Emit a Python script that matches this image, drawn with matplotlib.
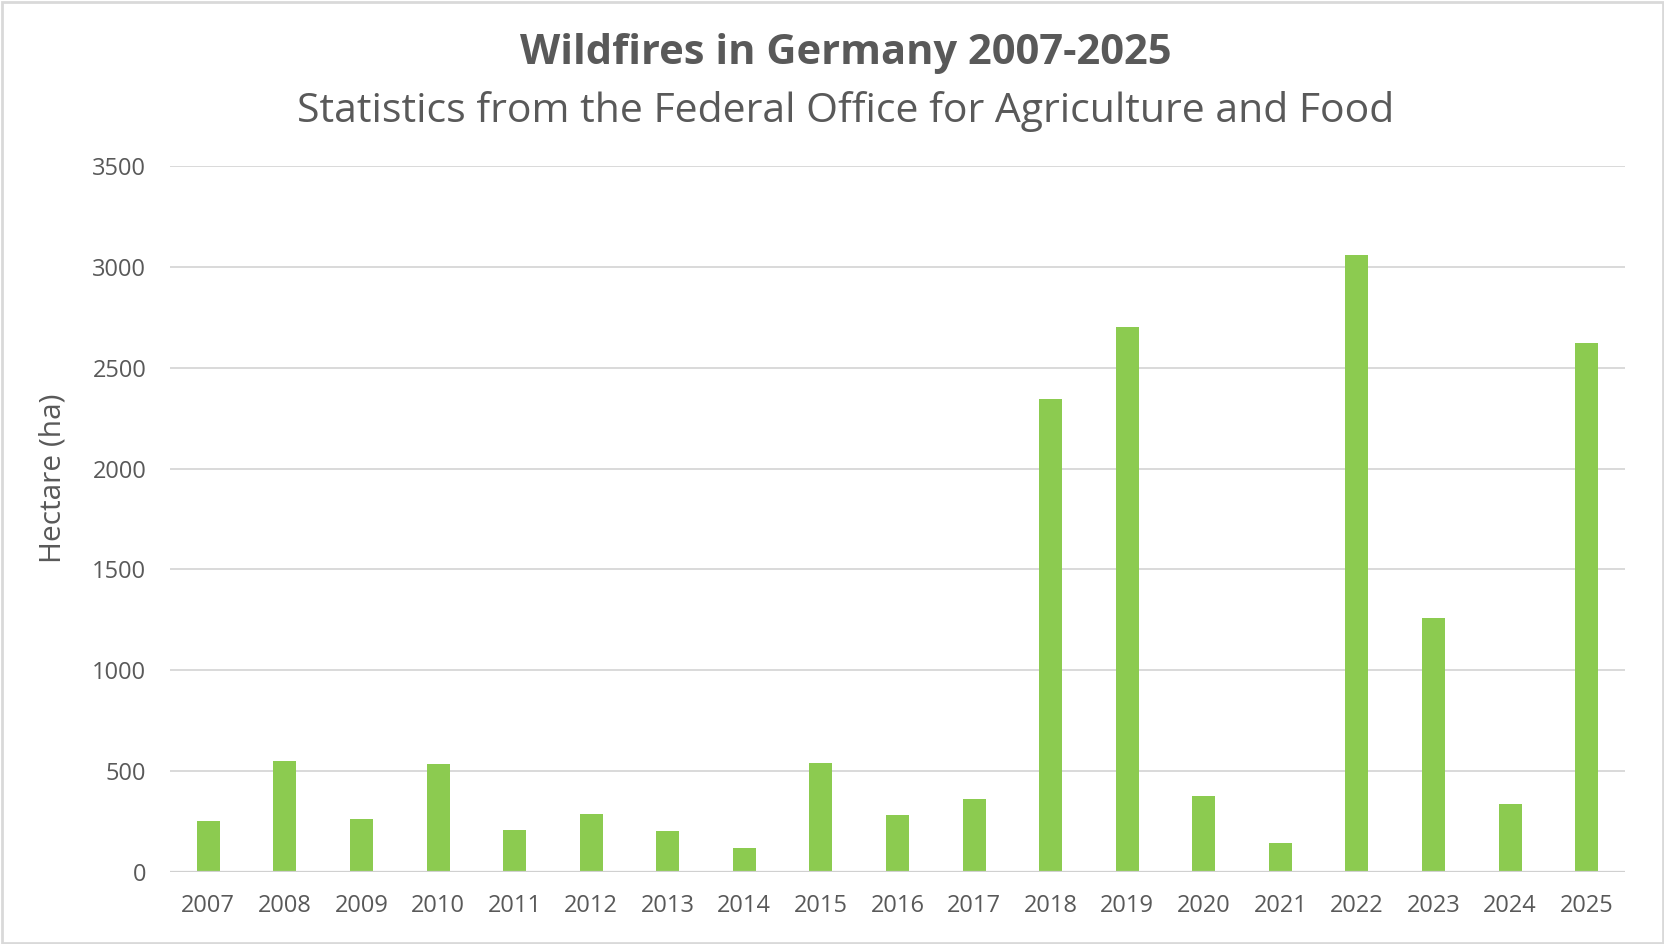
import matplotlib
matplotlib.use("Agg")
import matplotlib.pyplot as plt
from matplotlib.patches import Rectangle

years = ["2007", "2008", "2009", "2010", "2011", "2012", "2013", "2014", "2015", "2016",
         "2017", "2018", "2019", "2020", "2021", "2022", "2023", "2024", "2025"]
hectares = [254, 548, 262, 533, 209, 286, 201, 119, 538, 282,
            362, 2343, 2702, 378, 144, 3058, 1257, 338, 2624]
y_ticks = [0, 500, 1000, 1500, 2000, 2500, 3000, 3500]

title = "Wildfires in Germany 2007-2025"
subtitle = "Statistics from the Federal Office for Agriculture and Food"
ylabel = "Hectare (ha)"

plt.rcParams['font.family'] = ['Open Sans', 'DejaVu Sans']
W, H = 1665, 944
fig = plt.figure(figsize=(W / 100, H / 100), dpi=100)
fig.patch.set_facecolor("white")

ax = fig.add_axes([170 / W, 1 - 872 / H, (1625 - 170) / W, (872 - 166) / H])
x = range(len(years))
ax.bar(x, hectares, width=0.30, color="#8CCB50", zorder=3)
ax.set_xlim(-0.5, len(years) - 0.5)
ax.set_ylim(0, 3500)
ax.set_yticks(y_ticks)
ax.set_yticklabels([str(v) for v in y_ticks], fontsize=17, color="#595959")
ax.set_xticks(list(x))
ax.set_xticklabels(years, fontsize=17, color="#595959")
ax.tick_params(axis="both", length=0)
ax.tick_params(axis="x", pad=16)
ax.tick_params(axis="y", pad=17)
ax.grid(axis="y", color="#D9D9D9", linewidth=1.4, zorder=0)
for s in ax.spines.values():
    s.set_visible(False)
ax.axhline(0, color="#D0D0D0", linewidth=1.6, zorder=4)

fig.text(53 / W, 1 - 478 / H, ylabel, rotation=90, ha="center", va="center",
         fontsize=21.5, color="#595959")
fig.text(0.5077, 1 - 54 / H, title, ha="center", va="center", fontsize=30,
         fontweight="bold", color="#595959")
fig.text(0.5077, 1 - 111 / H, subtitle, ha="center", va="center", fontsize=29.5,
         color="#595959")

fig.patches.append(Rectangle((0.001, 0.001), 0.998, 0.997, transform=fig.transFigure,
                             fill=False, edgecolor="#D9D9D9", linewidth=2))

fig.savefig("out.png", dpi=100, facecolor="white")
